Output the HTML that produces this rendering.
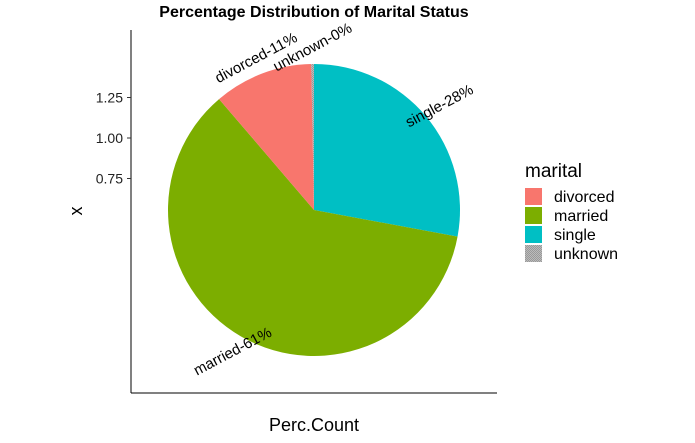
<!DOCTYPE html>
<html><head><meta charset="utf-8"><style>
body{margin:0;background:#fff;font-family:"Liberation Sans",sans-serif}
</style></head><body>
<svg width="695" height="438" xmlns="http://www.w3.org/2000/svg" font-family="Liberation Sans, sans-serif">
<text x="314" y="17" text-anchor="middle" font-size="16" font-weight="bold">Percentage Distribution of Marital Status</text>
<g id="pie"></g>
<g id="labels"></g>
<line x1="131" y1="30" x2="131" y2="393" stroke="#000" stroke-width="1"/>
<line x1="131" y1="393" x2="497" y2="393" stroke="#000" stroke-width="1"/>
<g id="yticks"></g>
<text x="314" y="431" text-anchor="middle" font-size="18">Perc.Count</text>
<text x="82" y="211" text-anchor="middle" font-size="18" transform="rotate(-90 82 211)">x</text>
<text x="525" y="177" font-size="19">marital</text>
<defs><pattern id="chk" width="2" height="2" patternUnits="userSpaceOnUse"><rect width="2" height="2" fill="#bbb"/><rect width="1" height="1" fill="#999"/><rect x="1" y="1" width="1" height="1" fill="#999"/></pattern></defs>
<g id="legend"></g>
</svg>
<script>
const categories=["single","married","divorced","unknown"];
const percents=[28,61,11,0.3];
const legendCats=["divorced","married","single","unknown"];
const colors={divorced:"#F8766D",married:"#7CAE00",single:"#00BFC4",unknown:"url(#chk)"};
const labelText=["single-28%","married-61%","divorced-11%","unknown-0%"];
const yTicks=[1.25,1.00,0.75];
const NS="http://www.w3.org/2000/svg";
const cx=314,cy=210,r=146,labelR=163,labelRot=-28;
function yScale(v){return 138-(v-1)*162;}
function pt(a,rr){return [cx+rr*Math.sin(a),cy-rr*Math.cos(a)];}
const total=percents.reduce((a,b)=>a+b,0);
const pie=document.getElementById('pie'),lab=document.getElementById('labels');
let start=0;
categories.forEach((c,i)=>{
 const sw=percents[i]/total*2*Math.PI,end=start+sw;
 const [x1,y1]=pt(start,r),[x2,y2]=pt(end,r);
 const p=document.createElementNS(NS,'path');
 p.setAttribute('d',`M${cx},${cy}L${x1},${y1}A${r},${r} 0 ${sw>Math.PI?1:0} 1 ${x2},${y2}Z`);
 p.setAttribute('fill',colors[c]);
 
 
 pie.appendChild(p);
 const mid=start+sw/2;const [lx,ly]=pt(mid,labelR);
 const t=document.createElementNS(NS,'text');
 t.setAttribute('x',lx);t.setAttribute('y',ly+5);
 t.setAttribute('text-anchor','middle');t.setAttribute('font-size','15');
 t.setAttribute('transform',`rotate(${labelRot} ${lx} ${ly})`);
 t.textContent=labelText[i];
 
 
 lab.appendChild(t);
 start=end;
});
const yt=document.getElementById('yticks');
yTicks.forEach(v=>{
 const y=yScale(v);
 const l=document.createElementNS(NS,'line');
 l.setAttribute('x1',127);l.setAttribute('x2',131);l.setAttribute('y1',y);l.setAttribute('y2',y);l.setAttribute('stroke','#333');
 
 
 yt.appendChild(l);
 const t=document.createElementNS(NS,'text');
 t.setAttribute('x',123);t.setAttribute('y',y+5);t.setAttribute('text-anchor','end');t.setAttribute('font-size','14');t.setAttribute('fill','#222');
 t.textContent=v.toFixed(2);
 
 
 yt.appendChild(t);
});
const lg=document.getElementById('legend');
legendCats.forEach((c,i)=>{
 const y=188+i*19;
 const rc=document.createElementNS(NS,'rect');
 rc.setAttribute('x',525);rc.setAttribute('y',y);rc.setAttribute('width',17);rc.setAttribute('height',17);rc.setAttribute('fill',colors[c]);
 
 
 lg.appendChild(rc);
 const t=document.createElementNS(NS,'text');
 t.setAttribute('x',554);t.setAttribute('y',y+14);t.setAttribute('font-size','16');
 t.textContent=c;
 
 
 lg.appendChild(t);
});
</script>
</body></html>
